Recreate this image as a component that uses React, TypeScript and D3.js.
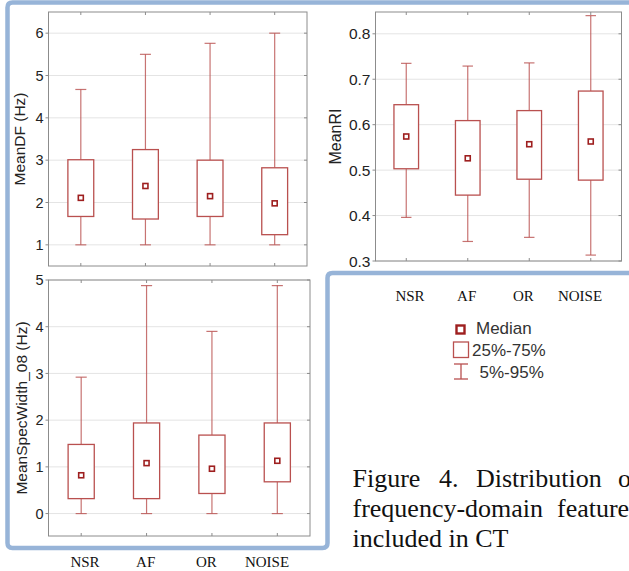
import React from "react";
import * as d3 from "d3";

// groups on the x axis
const categories = ["NSR", "AF", "OR", "NOISE"];

// MeanDF (Hz)
const dfP05 = [1.0, 1.0, 1.0, 1.0];
const dfQ1 = [1.67, 1.61, 1.67, 1.24];
const dfMedian = [2.11, 2.39, 2.15, 1.98];
const dfQ3 = [3.01, 3.25, 3.0, 2.82];
const dfP95 = [4.67, 5.5, 5.76, 6.0];
const dfTicks = [1, 2, 3, 4, 5, 6];

// MeanRI
const riP05 = [0.396, 0.343, 0.352, 0.313];
const riQ1 = [0.503, 0.445, 0.48, 0.478];
const riMedian = [0.574, 0.526, 0.557, 0.563];
const riQ3 = [0.644, 0.609, 0.631, 0.674];
const riP95 = [0.735, 0.729, 0.736, 0.84];
const riTicks = [0.3, 0.4, 0.5, 0.6, 0.7, 0.8];

// MeanSpecWidth_08 (Hz)
const swP05 = [0, 0, 0, 0];
const swQ1 = [0.32, 0.32, 0.43, 0.68];
const swMedian = [0.82, 1.08, 0.96, 1.13];
const swQ3 = [1.48, 1.94, 1.68, 1.94];
const swP95 = [2.92, 4.88, 3.9, 4.88];
const swTicks = [0, 1, 2, 3, 4, 5];

const legendLabels = ["Median", "25%-75%", "5%-95%"];

const BOX = "#b9504f";
const MED = "#9e1f1f";
const GRID = "#e4e4e4";
const FRAME = "#8c8c8c";
const BLUE = "#97b4d8";
const SANS = "Arial, 'Liberation Sans', sans-serif";
const SERIF = "'Times New Roman', 'Liberation Serif', serif";

function BoxPanel({ x0, x1, y0, y1, domain, ticks, fmt, p05, q1, med, q3, p95, title, titleX, tickSize, titleSize }) {
  const xScale = d3.scaleBand().domain(categories).range([x0, x1]);
  const yScale = d3.scaleLinear().domain(domain).range([y1, y0]);
  const bw = xScale.bandwidth();
  const boxW = bw * 0.4;
  const capW = bw * 0.17;
  const rows = categories.map((c, i) => ({ c, lo: p05[i], q1: q1[i], med: med[i], q3: q3[i], hi: p95[i] }));
  const cx = (c) => xScale(c) + bw / 2;

  return (
    <g>
      {ticks.map((t) => (
        <g key={t}>
          <line x1={x0} x2={x1} y1={yScale(t)} y2={yScale(t)} stroke={GRID} strokeWidth={1} />
          <line x1={x0 - 3} x2={x0} y1={yScale(t)} y2={yScale(t)} stroke={FRAME} />
          <line x1={x1 - 3} x2={x1} y1={yScale(t)} y2={yScale(t)} stroke={FRAME} />
          <text x={x0 - 5} y={yScale(t)} dy="0.36em" textAnchor="end" fontFamily={SANS} fontSize={tickSize} fill="#222">
            {fmt(t)}
          </text>
        </g>
      ))}
      {categories.map((c) => (
        <g key={c}>
          <line x1={cx(c)} x2={cx(c)} y1={y0} y2={y0 + 3} stroke={FRAME} />
          <line x1={cx(c)} x2={cx(c)} y1={y1 - 3} y2={y1} stroke={FRAME} />
        </g>
      ))}
      <rect x={x0} y={y0} width={x1 - x0} height={y1 - y0} fill="none" stroke={FRAME} strokeWidth={1} />
      {rows.map((d) => (
        <g key={d.c} stroke={BOX} fill="none" strokeWidth={1.2}>
          <line x1={cx(d.c)} x2={cx(d.c)} y1={yScale(d.hi)} y2={yScale(d.q3)} strokeOpacity={0.8} />
          <line x1={cx(d.c)} x2={cx(d.c)} y1={yScale(d.q1)} y2={yScale(d.lo)} strokeOpacity={0.8} />
          <line x1={cx(d.c) - capW / 2} x2={cx(d.c) + capW / 2} y1={yScale(d.hi)} y2={yScale(d.hi)} strokeOpacity={0.8} />
          <line x1={cx(d.c) - capW / 2} x2={cx(d.c) + capW / 2} y1={yScale(d.lo)} y2={yScale(d.lo)} strokeOpacity={0.8} />
          <rect x={cx(d.c) - boxW / 2} y={yScale(d.q3)} width={boxW} height={yScale(d.q1) - yScale(d.q3)} fill="#fff" strokeWidth={1.3} />
          <rect x={cx(d.c) - 2.5} y={yScale(d.med) - 2.5} width={5} height={5} fill="#fff" stroke={MED} strokeWidth={1.6} />
        </g>
      ))}
      <text
        transform={`translate(${titleX}, ${(y0 + y1) / 2}) rotate(-90)`}
        textAnchor="middle"
        fontFamily={SANS}
        fontSize={titleSize}
        fill="#222"
      >
        {title}
      </text>
    </g>
  );
}

export default function App() {
  const labelsRight = d3.scalePoint().domain(categories).range([410, 580]);
  const labelsBottom = d3.scalePoint().domain(categories).range([85, 267]);

  return (
    <svg
      width={629}
      height={571}
      style={{ position: "absolute", left: 0, top: 0, background: "#fff" }}
    >
      <BoxPanel
        x0={48.5} x1={307} y0={12} y1={266}
        domain={[0.5, 6.5]} ticks={dfTicks} fmt={(t) => d3.format("d")(t)}
        p05={dfP05} q1={dfQ1} med={dfMedian} q3={dfQ3} p95={dfP95}
        title="MeanDF (Hz)" titleX={25} tickSize={14.5} titleSize={15.5}
      />
      <BoxPanel
        x0={375.5} x1={621.5} y0={12} y1={261}
        domain={[0.3, 0.848]} ticks={riTicks} fmt={(t) => d3.format(".1f")(t)}
        p05={riP05} q1={riQ1} med={riMedian} q3={riQ3} p95={riP95}
        title="MeanRI" titleX={341} tickSize={15.5} titleSize={16}
      />
      <BoxPanel
        x0={48.5} x1={310} y0={280} y1={536}
        domain={[-0.48, 5]} ticks={swTicks} fmt={(t) => d3.format("d")(t)}
        p05={swP05} q1={swQ1} med={swMedian} q3={swQ3} p95={swP95}
        title="MeanSpecWidth_08 (Hz)" titleX={27} tickSize={14.5} titleSize={15.5}
      />

      {/* blue outline of the figure */}
      <path
        d="M 640 2.5 H 12.5 Q 7.5 2.5 7.5 7.5 V 543 Q 7.5 548 12.5 548 H 322.5 Q 327.5 548 327.5 543 V 278 Q 327.5 273 332.5 273 H 640"
        fill="none"
        stroke={BLUE}
        strokeWidth={4.5}
      />

      {/* category labels typed under the plots */}
      {categories.map((c) => (
        <text key={"r" + c} x={labelsRight(c)} y={300.5} textAnchor="middle" fontFamily={SERIF} fontSize={15} fill="#111">
          {c}
        </text>
      ))}
      {categories.map((c) => (
        <text key={"b" + c} x={labelsBottom(c)} y={566.5} textAnchor="middle" fontFamily={SERIF} fontSize={15} fill="#111">
          {c}
        </text>
      ))}

      {/* legend */}
      <g fontFamily={SANS} fontSize={17} fill="#333">
        <rect x={456.5} y={325.5} width={8} height={8} fill="#fff" stroke={MED} strokeWidth={2.4} />
        <text x={476} y={334}>{legendLabels[0]}</text>
        <rect x={453.5} y={342} width={15} height={15.5} fill="#fff" stroke={BOX} strokeWidth={1.3} />
        <text x={472} y={355.7}>{legendLabels[1]}</text>
        <g stroke={BOX} strokeWidth={1.3}>
          <line x1={461} x2={461} y1={364} y2={379} />
          <line x1={454} x2={468} y1={364} y2={364} />
          <line x1={454} x2={468} y1={379} y2={379} />
        </g>
        <text x={479.5} y={377.7}>{legendLabels[2]}</text>
      </g>

      {/* caption */}
      <g fontFamily={SERIF} fontSize={26} fill="#111">
        <text x={352.5} y={486.5}>Figure</text>
        <text x={439} y={486.5}>4.</text>
        <text x={476} y={486.5}>Distribution</text>
        <text x={618} y={486.5}>of</text>
        <text x={352.5} y={516.5}>frequency-domain</text>
        <text x={557} y={516.5}>features</text>
        <text x={352.5} y={546.5}>included in CT</text>
      </g>
    </svg>
  );
}
